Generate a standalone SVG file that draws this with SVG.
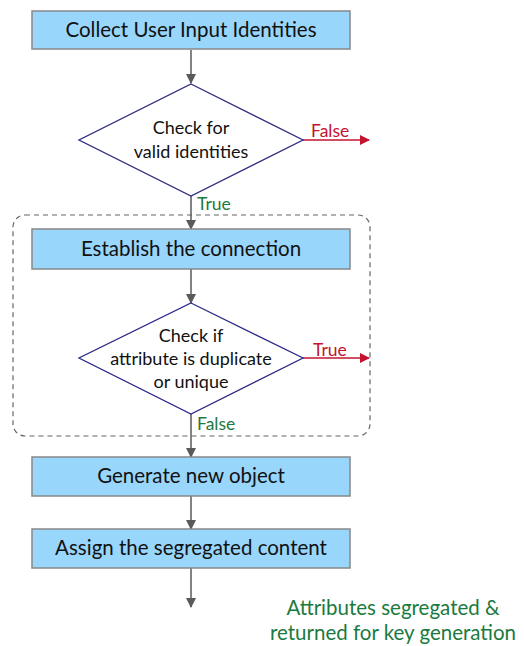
<svg xmlns="http://www.w3.org/2000/svg" width="524" height="646" viewBox="0 0 524 646">
<defs>
<marker id="ag" markerWidth="10" markerHeight="10" refX="9" refY="5" orient="auto" markerUnits="userSpaceOnUse"><path d="M0,0 L10,5 L0,10 Z" fill="#5a5a5a"/></marker>
<marker id="ar" markerWidth="10" markerHeight="10" refX="9" refY="5" orient="auto" markerUnits="userSpaceOnUse"><path d="M0,0 L10,5 L0,10 Z" fill="#c4122f"/></marker>
</defs>
<style>
.box{fill:#99d6fc;stroke:#888;stroke-width:1.5}
.dia{fill:#fff;stroke:#2b2b87;stroke-width:1.3}
.t{font-family:Lato,"Open Sans",sans-serif;fill:#111;text-anchor:middle}
.bt{font-size:20.5px}
.dt{font-size:18px}
.lg{font-family:Lato,sans-serif;fill:#1b7a3e;font-size:17.5px}
.lr{font-family:Lato,sans-serif;fill:#c4122f;font-size:17.5px}
.note{font-family:Lato,sans-serif;fill:#1b7a3e;font-size:20.5px;text-anchor:middle}
.cg{stroke:#5a5a5a;stroke-width:1.5;fill:none;marker-end:url(#ag)}
.cr{stroke:#c4122f;stroke-width:1.5;fill:none;marker-end:url(#ar)}
</style>
<rect x="13" y="215" width="357" height="221" rx="12" fill="none" stroke="#666" stroke-width="1.2" stroke-dasharray="5,4"/>
<g id="connectors">
<line class="cg" x1="191" y1="50" x2="191" y2="83"/>
<line class="cg" x1="191" y1="196" x2="191" y2="229"/>
<line class="cg" x1="191" y1="269" x2="191" y2="303"/>
<line class="cg" x1="191" y1="414" x2="191" y2="457"/>
<line class="cg" x1="191" y1="496" x2="191" y2="529"/>
<line class="cg" x1="191" y1="568" x2="191" y2="607"/>
<line class="cr" x1="303" y1="140" x2="369" y2="140"/>
<line class="cr" x1="303" y1="358" x2="369" y2="358"/>
<text class="lr" x="311" y="137">False</text>
<text class="lr" x="313" y="356">True</text>
<text class="lg" x="197" y="210">True</text>
<text class="lg" x="197" y="430">False</text>
</g>
<g id="n1"><rect class="box" x="32" y="11" width="318" height="38"/><text class="t bt" x="191" y="37">Collect User Input Identities</text></g>
<g id="n2"><polygon class="dia" points="191,84 303,140 191,196 79,140"/><text class="t dt" x="191" y="134">Check for</text><text class="t dt" x="191" y="158">valid identities</text></g>
<g id="n3"><rect class="box" x="32" y="229" width="318" height="40"/><text class="t bt" x="191" y="256">Establish the connection</text></g>
<g id="n4"><polygon class="dia" points="191,303 303,358 191,414 79,358"/><text class="t dt" x="191" y="342">Check if</text><text class="t dt" x="191" y="365">attribute is duplicate</text><text class="t dt" x="191" y="388">or unique</text></g>
<g id="n5"><rect class="box" x="32" y="457" width="318" height="39"/><text class="t bt" x="191" y="483">Generate new object</text></g>
<g id="n6"><rect class="box" x="32" y="529" width="318" height="39"/><text class="t bt" x="191" y="555">Assign the segregated content</text></g>
<g id="note"><text class="note" x="393" y="615">Attributes segregated &amp;</text><text class="note" x="393" y="640">returned for key generation</text></g>
</svg>
